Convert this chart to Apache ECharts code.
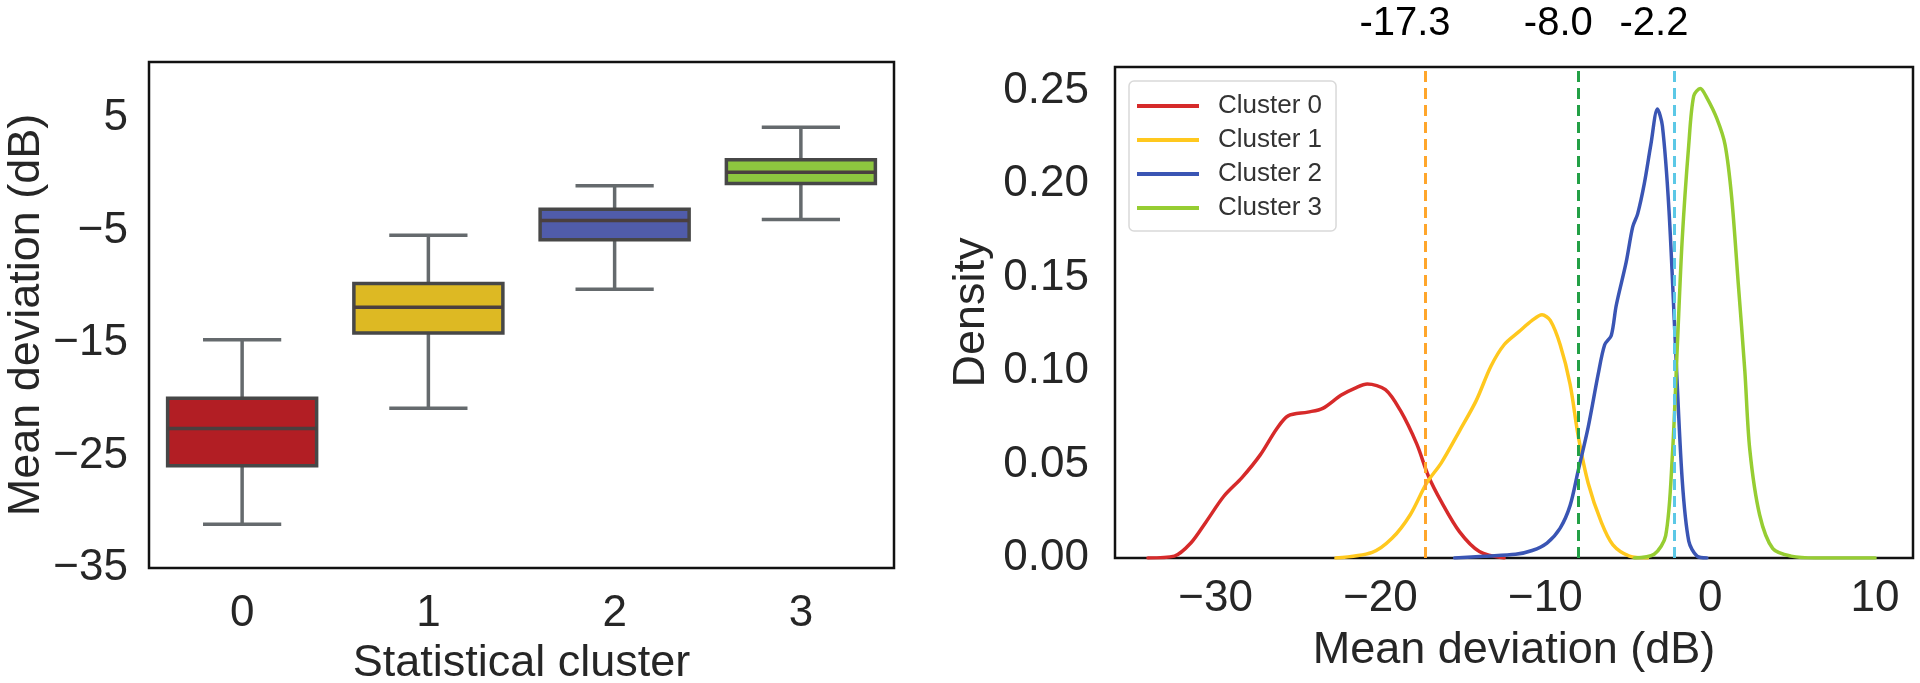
<!DOCTYPE html>
<html>
<head>
<meta charset="utf-8">
<script src="https://cdn.jsdelivr.net/npm/echarts@6/dist/echarts.min.js"></script>
<style>
html,body{margin:0;padding:0;background:#fff;}
#chart{width:1920px;height:683px;}
</style>
</head>
<body>
<div id="chart"></div>
<script>
// ---------- Left panel: box plot ----------
const boxCategories = ['0', '1', '2', '3'];
const boxLow    = [-31.1, -20.8, -10.2, -4.0];
const boxQ1     = [-25.9, -14.1, -5.8, -0.8];
const boxMedian = [-22.6, -11.8, -4.1, 0.2];
const boxQ3     = [-19.9, -9.7, -3.1, 1.3];
const boxHigh   = [-14.7, -5.4, -1.0, 4.2];
const boxColors = ['#b21e24', '#ddb923', '#505caa', '#8dc63f'];

// ---------- Right panel: density curves ----------
const clusterNames = ['Cluster 0', 'Cluster 1', 'Cluster 2', 'Cluster 3'];
const c0X = [-34.1, -32.5, -31.5, -30.6, -29.5, -28.4, -27.3, -26.3, -25.6, -24.4, -23.5, -22.4, -21.5, -20.8, -19.7, -18.8, -17.8, -17.1, -16.3, -15.2, -14.0, -12.5];
const c0Y = [0.0, 0.001, 0.008, 0.019, 0.033, 0.043, 0.055, 0.069, 0.076, 0.078, 0.080, 0.087, 0.091, 0.093, 0.090, 0.079, 0.061, 0.044, 0.030, 0.014, 0.0035, 0.0];
const c1X = [-22.7, -20.5, -19.3, -18.2, -17.2, -16.3, -15.2, -14.2, -13.3, -12.5, -11.6, -10.8, -10.2, -9.7, -9.1, -8.5, -8.0, -7.4, -6.6, -5.9, -4.9, -3.8];
const c1Y = [0.0, 0.003, 0.0105, 0.023, 0.040, 0.051, 0.068, 0.084, 0.1025, 0.114, 0.121, 0.127, 0.130, 0.127, 0.114, 0.093, 0.065, 0.040, 0.019, 0.007, 0.001, 0.0];
const c2X = [-15.5, -13.7, -11.8, -10.8, -9.9, -9.1, -8.5, -8.0, -7.4, -6.8, -6.4, -6.0, -5.7, -5.1, -4.7, -4.4, -4.0, -3.6, -3.2, -2.9, -2.5, -2.1, -1.7, -1.3, -0.8, -0.2];
const c2Y = [0.0, 0.001, 0.002, 0.004, 0.008, 0.016, 0.028, 0.047, 0.070, 0.098, 0.114, 0.119, 0.135, 0.158, 0.177, 0.184, 0.200, 0.221, 0.240, 0.231, 0.186, 0.112, 0.042, 0.009, 0.001, 0.0];
const c3X = [-4.6, -3.4, -2.7, -2.3, -2.0, -1.7, -1.3, -1.0, -0.6, -0.2, 0.4, 0.9, 1.3, 1.7, 2.1, 2.4, 3.0, 3.8, 4.9, 6.4, 10.0];
const c3Y = [0.0, 0.002, 0.012, 0.054, 0.112, 0.170, 0.221, 0.247, 0.251, 0.246, 0.235, 0.221, 0.193, 0.147, 0.100, 0.058, 0.023, 0.005, 0.001, 0.0, 0.0];
const clusterColors = ['#d62a2a', '#ffc81e', '#3a55b4', '#96cd32'];

const thresholdValues = [-17.3, -8.0, -2.2];
const thresholdColors = ['#ffa62b', '#23a046', '#5cc8e6'];

const FONT = "'Liberation Sans', Arial, sans-serif";
const TXT = '#262626';
const minus = v => String(v).replace('-', '\u2212');

function pairs(xs, ys) { return xs.map((x, i) => [x, ys[i]]); }

const boxData = boxCategories.map((c, i) => [i, boxLow[i], boxQ1[i], boxMedian[i], boxQ3[i], boxHigh[i]]);

function renderBox(params, api) {
  const i = api.value(0);
  const low = api.coord([i, api.value(1)]);
  const q1 = api.coord([i, api.value(2)]);
  const med = api.coord([i, api.value(3)]);
  const q3 = api.coord([i, api.value(4)]);
  const high = api.coord([i, api.value(5)]);
  const band = api.size([1, 0])[0];
  const bw = band * 0.8, cw = band * 0.42;
  const x = low[0];
  const wStyle = { stroke: '#656a6d', lineWidth: 3.5 };
  const eStyle = '#474747';
  return {
    type: 'group',
    children: [
      { type: 'line', shape: { x1: x, y1: low[1], x2: x, y2: q1[1] }, style: wStyle },
      { type: 'line', shape: { x1: x, y1: q3[1], x2: x, y2: high[1] }, style: wStyle },
      { type: 'line', shape: { x1: x - cw / 2, y1: low[1], x2: x + cw / 2, y2: low[1] }, style: wStyle },
      { type: 'line', shape: { x1: x - cw / 2, y1: high[1], x2: x + cw / 2, y2: high[1] }, style: wStyle },
      { type: 'rect', shape: { x: x - bw / 2, y: q3[1], width: bw, height: q1[1] - q3[1] },
        style: { fill: boxColors[i], stroke: eStyle, lineWidth: 3.5 } },
      { type: 'line', shape: { x1: x - bw / 2, y1: med[1], x2: x + bw / 2, y2: med[1] },
        style: { stroke: '#4a3f3f', lineWidth: 3.5 } }
    ]
  };
}

const densitySeries = [pairs(c0X, c0Y), pairs(c1X, c1Y), pairs(c2X, c2Y), pairs(c3X, c3Y)].map((d, k) => ({
  name: clusterNames[k],
  type: 'line',
  xAxisIndex: 1, yAxisIndex: 1,
  data: d,
  smooth: 0.3,
  showSymbol: false,
  symbol: 'none',
  lineStyle: { color: clusterColors[k], width: 3.5, join: 'round', cap: 'round' },
  itemStyle: { color: clusterColors[k] },
  z: 2 + k
}));

const thresholdSeries = thresholdValues.map((v, k) => ({
  name: 'thr' + k,
  type: 'line',
  xAxisIndex: 1, yAxisIndex: 1,
  data: [],
  z: 10,
  markLine: {
    silent: true,
    symbol: ['none', 'none'],
    lineStyle: { color: thresholdColors[k], type: [11, 6], width: 3 },
    label: {
      show: true, position: 'end', distance: 23, offset: [-20, 0],
      formatter: v.toFixed(1),
      color: '#000', fontSize: 40, fontFamily: FONT
    },
    data: [{ xAxis: v }],
    z: 10
  }
}));

const chart = echarts.init(document.getElementById('chart'), null, { renderer: 'canvas' });
chart.setOption({
  backgroundColor: '#fff',
  animation: false,
  grid: [
    { left: 149, top: 62, width: 745, height: 506, containLabel: false, outerBoundsMode: 'none',
      show: true, borderColor: '#111', borderWidth: 2.5, backgroundColor: 'transparent' },
    { left: 1115, top: 67, width: 798, height: 491, containLabel: false, outerBoundsMode: 'none',
      show: true, borderColor: '#111', borderWidth: 2.5, backgroundColor: 'transparent' }
  ],
  legend: {
    data: clusterNames,
    orient: 'vertical',
    left: 1129, top: 81,
    padding: [12, 14, 10, 8],
    itemGap: 8,
    itemWidth: 62, itemHeight: 4,
    icon: 'rect',
    backgroundColor: '#fff',
    borderColor: '#d9d9d9', borderWidth: 1.5, borderRadius: 5,
    textStyle: { fontFamily: FONT, fontSize: 26, color: '#333', padding: [0, 0, 0, 14] }
  },
  xAxis: [
    {
      type: 'category', gridIndex: 0, data: boxCategories,
      axisLine: { show: false }, axisTick: { show: false }, splitLine: { show: false },
      axisLabel: { color: TXT, fontSize: 44, fontFamily: FONT, margin: 24 },
      name: 'Statistical cluster', nameLocation: 'middle', nameGap: 63,
      nameTextStyle: { color: TXT, fontSize: 45, fontFamily: FONT }
    },
    {
      type: 'value', gridIndex: 1, min: -36.1, max: 12.3, splitNumber: 5,
      axisLine: { show: false }, axisTick: { show: false }, splitLine: { show: false },
      axisLabel: { color: TXT, fontSize: 44, fontFamily: FONT, margin: 19, showMinLabel: false, showMaxLabel: false, formatter: minus },
      name: 'Mean deviation (dB)', nameLocation: 'middle', nameGap: 70,
      nameTextStyle: { color: TXT, fontSize: 45, fontFamily: FONT }
    }
  ],
  yAxis: [
    {
      type: 'value', gridIndex: 0, min: -35, max: 10, interval: 10,
      axisLine: { show: false }, axisTick: { show: false }, splitLine: { show: false },
      axisLabel: { color: TXT, fontSize: 44, fontFamily: FONT, margin: 21, showMaxLabel: false, formatter: minus },
      name: 'Mean deviation (dB)', nameLocation: 'middle', nameGap: 100, nameRotate: 90,
      nameTextStyle: { color: TXT, fontSize: 45, fontFamily: FONT }
    },
    {
      type: 'value', gridIndex: 1, min: 0, max: 0.2625, interval: 0.05,
      axisLine: { show: false }, axisTick: { show: false }, splitLine: { show: false },
      axisLabel: { color: TXT, fontSize: 44, fontFamily: FONT, margin: 26, showMaxLabel: false, formatter: v => v.toFixed(2) },
      name: 'Density', nameLocation: 'middle', nameGap: 121, nameRotate: 90,
      nameTextStyle: { color: TXT, fontSize: 45, fontFamily: FONT }
    }
  ],
  series: [
    {
      type: 'custom', xAxisIndex: 0, yAxisIndex: 0,
      data: boxData,
      encode: { x: 0, y: [1, 2, 3, 4, 5] },
      renderItem: renderBox,
      z: 3
    }
  ].concat(densitySeries, thresholdSeries)
});
</script>
</body>
</html>
